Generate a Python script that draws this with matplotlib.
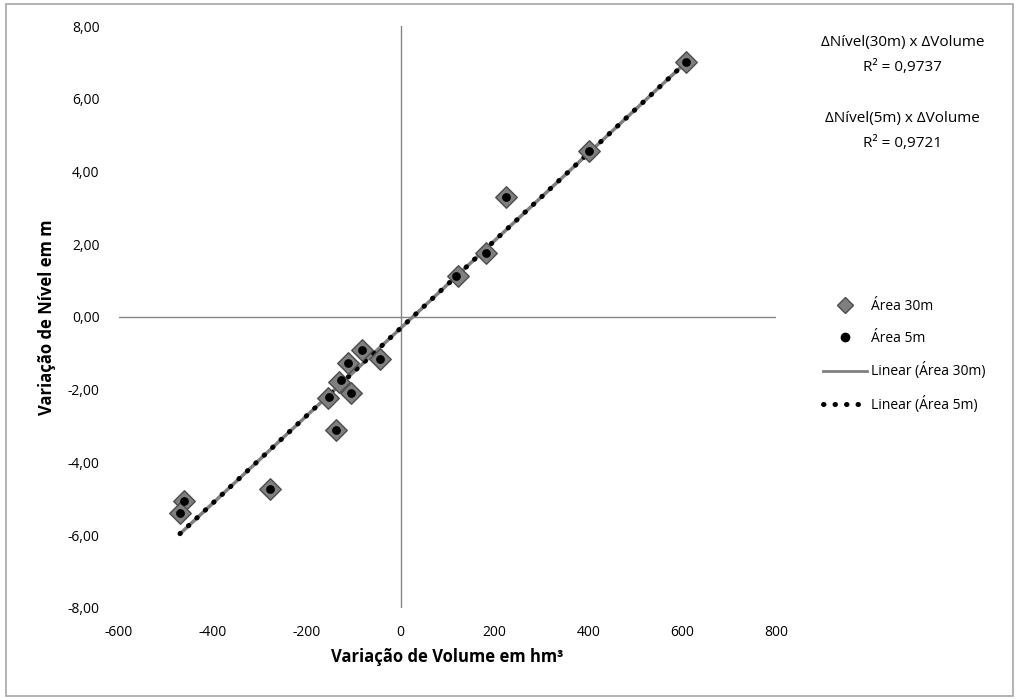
import numpy as np
import matplotlib
matplotlib.use('Agg')
import matplotlib.pyplot as plt
from matplotlib.lines import Line2D
from matplotlib.patches import Rectangle

plt.rcParams['font.family'] = ['Open Sans', 'DejaVu Sans']
plt.rcParams['axes.unicode_minus'] = False

# dados
vol_30 = [609, 401, 224, 181, 122, -44, -82, -112, -132, -105, -155, -137, -278, -462, -470]
niv_30 = [7.02, 4.56, 3.29, 1.76, 1.12, -1.15, -0.92, -1.26, -1.78, -2.08, -2.22, -3.12, -4.73, -5.05, -5.38]
vol_5 = [609, 401, 224, 181, 119, -44, -82, -112, -128, -105, -152, -137, -278, -462, -470]
niv_5 = [7.00, 4.56, 3.29, 1.76, 1.14, -1.15, -0.92, -1.26, -1.72, -2.08, -2.20, -3.12, -4.73, -5.05, -5.38]

fig = plt.figure(figsize=(10.19, 6.99), dpi=100)
fig.patches.append(Rectangle((0.006, 0.004), 0.988, 0.99, transform=fig.transFigure,
                             fill=False, edgecolor='#a6a6a6', lw=1.2))
ax = fig.add_axes([0.1168, 0.1302, 0.6447, 0.8326])

ax.set_xlim(-600, 800)
ax.set_ylim(-8, 8)
for s in ax.spines.values():
    s.set_visible(False)
ax.axhline(0, color='#868686', lw=1.0, zorder=1)
ax.axvline(0, color='#868686', lw=1.0, zorder=1)

ax.set_xticks(np.arange(-600, 801, 200))
yt = np.arange(-8, 8.1, 2)
ax.set_yticks(yt)
ax.set_yticklabels([('%.2f' % v).replace('.', ',') for v in yt])
ax.tick_params(length=0, labelsize=10, colors='black', pad=14)
ax.tick_params(axis='x', pad=12)

# linhas de tendência
dot = (0, (0.1, 2.2))
for xs, ys, kw in [(vol_30, niv_30, dict(color='#808080', lw=2.5, zorder=2)),
                   (vol_5, niv_5, dict(color='black', lw=3.6, ls=dot,
                                       dash_capstyle='round', zorder=3))]:
    a, b = np.polyfit(xs, ys, 1)
    xx = np.array([min(xs), max(xs)])
    ax.plot(xx, a * xx + b, **kw)

ax.scatter(vol_30, niv_30, marker='D', s=120, facecolor='#7f7f7f', edgecolor='#4d4d4d',
           lw=1, zorder=4)
ax.scatter(vol_5, niv_5, marker='o', s=28, color='black', zorder=5)

ax.set_xlabel('Variação de Volume em hm³', fontsize=12, fontweight='bold', labelpad=6)
ax.set_ylabel('Variação de Nível em m', fontsize=12, fontweight='bold', labelpad=8)

handles = [
    Line2D([], [], ls='none', marker='D', ms=8, mfc='#7f7f7f', mec='#4d4d4d'),
    Line2D([], [], ls='none', marker='o', ms=6, color='black'),
    Line2D([], [], color='#808080', lw=2),
    Line2D([], [], color='black', lw=3.6, ls=dot, dash_capstyle='round'),
]
labels = ['Área 30m', 'Área 5m', 'Linear (Área 30m)', 'Linear (Área 5m)']
fig.legend(handles, labels, loc='upper left', bbox_to_anchor=(0.795, 0.59),
           frameon=False, fontsize=10, labelspacing=1.2, handlelength=3.2,
           handletextpad=0.3)

fig.text(0.886, 0.921, 'ΔNível(30m) x ΔVolume\nR² = 0,9737', ha='center', va='center',
         fontsize=11, linespacing=1.9)
fig.text(0.886, 0.812, 'ΔNível(5m) x ΔVolume\nR² = 0,9721', ha='center', va='center',
         fontsize=11, linespacing=1.9)

fig.savefig('out.png', dpi=100)
